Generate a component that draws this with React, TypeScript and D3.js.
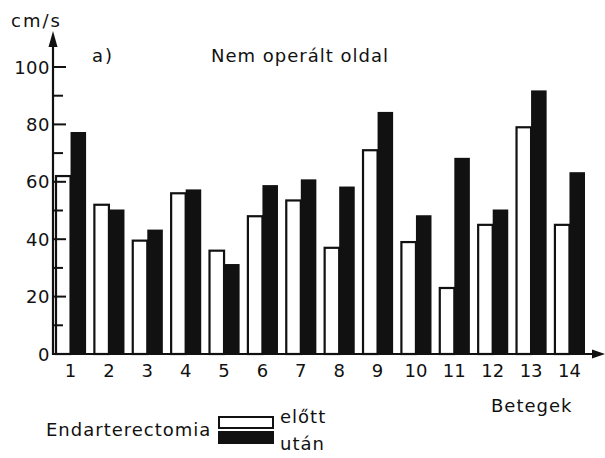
import React from "react";
import * as d3 from "d3";

// Patients (Betegek) and flow velocities in cm/s
const patients = [1, 2, 3, 4, 5, 6, 7, 8, 9, 10, 11, 12, 13, 14];
const before = [62, 52, 39.5, 56, 36, 48, 53.5, 37, 71, 39, 23, 45, 79, 45];
const after = [77, 50, 43, 57, 31, 58.5, 60.5, 58, 84, 48, 68, 50, 91.5, 63];
const majorTicks = [0, 20, 40, 60, 80, 100];
const minorTicks = [10, 30, 50, 70, 90];

const W = 605;
const H = 458;
const FONT = "'DejaVu Sans', sans-serif";

export default function App() {
  const axisX = 53;
  const baseY = 354;

  const x = d3
    .scaleBand<number>()
    .domain(patients)
    .range([55, 585])
    .paddingInner(0.19)
    .paddingOuter(0);
  const y = d3.scaleLinear().domain([0, 100]).range([baseY, 67]);
  const half = x.bandwidth() / 2;

  const txt = { fontSize: 18, fill: "#111", letterSpacing: 1 };

  return (
    <svg
      width={W}
      height={H}
      style={{ position: "absolute", left: 0, top: 0, background: "#fff" }}
      fontFamily={FONT}
    >
      {/* bars */}
      {patients.map((p, i) => {
        const x0 = x(p)!;
        return (
          <g key={p}>
            <rect
              x={x0 + 1}
              y={y(before[i])}
              width={half - 1}
              height={baseY - y(before[i])}
              fill="#fff"
              stroke="#111"
              strokeWidth={2.2}
            />
            <rect
              x={x0 + half}
              y={y(after[i]) - 1}
              width={half}
              height={baseY - y(after[i]) + 1}
              fill="#111"
            />
          </g>
        );
      })}

      {/* y axis */}
      <line x1={axisX} x2={axisX} y1={baseY + 1} y2={44} stroke="#111" strokeWidth={2.2} />
      <path d={`M${axisX},31 L${axisX - 4.5},47 L${axisX + 4.5},47 Z`} fill="#111" />
      {majorTicks.map((t) => (
        <g key={t}>
          <line x1={axisX} x2={axisX + 13} y1={y(t)} y2={y(t)} stroke="#111" strokeWidth={2} />
          <text x={axisX - 3} y={y(t) + 6.5} textAnchor="end" fontSize={18} fill="#111" letterSpacing={0.5}>
            {t}
          </text>
        </g>
      ))}
      {minorTicks.map((t) => (
        <line key={t} x1={axisX} x2={axisX + 10} y1={y(t)} y2={y(t)} stroke="#111" strokeWidth={2} />
      ))}

      {/* x axis */}
      <line x1={axisX - 1} x2={596} y1={baseY} y2={baseY} stroke="#111" strokeWidth={2.2} />
      <path d={`M605,${baseY} L592,${baseY - 4.5} L592,${baseY + 4.5} Z`} fill="#111" />
      {patients.map((p) => (
        <text
          key={p}
          x={x(p)! + x.bandwidth() / 2}
          y={377}
          textAnchor="middle"
          fontSize={18}
          fill="#111"
        >
          {p}
        </text>
      ))}

      {/* titles */}
      <text x={11} y={27} {...txt} letterSpacing={2}>cm/s</text>
      <text x={92} y={62} {...txt} letterSpacing={2}>a)</text>
      <text x={211} y={62} {...txt}>Nem operált oldal</text>
      <text x={491} y={412} {...txt}>Betegek</text>

      {/* legend */}
      <text x={46} y={436} {...txt}>Endarterectomia</text>
      <rect x={219} y={417} width={54} height={11} fill="#fff" stroke="#111" strokeWidth={2} />
      <rect x={218} y={431} width={56} height={13} fill="#111" />
      <text x={280} y={423} {...txt}>előtt</text>
      <text x={280} y={450} {...txt}>után</text>
    </svg>
  );
}
